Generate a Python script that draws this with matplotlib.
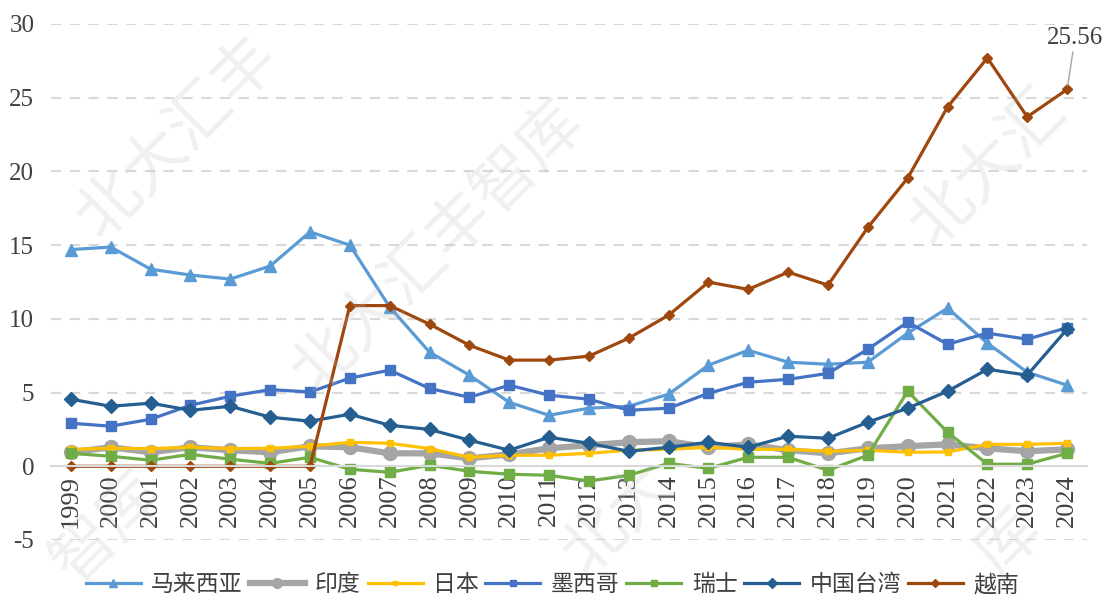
import matplotlib.pyplot as plt

plt.rcParams['font.family'] = ['Liberation Serif', 'Noto Sans CJK SC']
plt.rcParams['axes.unicode_minus'] = False

years = [str(y) for y in range(1999, 2025)]

malaysia = [14.7, 14.87, 13.37, 12.97, 12.7, 13.58, 15.9, 15.0, 10.8, 7.74, 6.18, 4.34, 3.46, 3.94,
            4.07, 4.89, 6.86, 7.87, 7.06, 6.92, 7.06, 9.03, 10.73, 8.35, 6.38, 5.5]
india = [0.95, 1.29, 0.95, 1.29, 1.09, 0.95, 1.36, 1.29, 0.88, 0.88, 0.54, 0.81, 1.22, 1.43,
         1.63, 1.70, 1.29, 1.49, 1.09, 0.88, 1.22, 1.36, 1.49, 1.22, 1.02, 1.15]
japan = [1.15, 1.22, 1.2, 1.29, 1.2, 1.22, 1.36, 1.63, 1.56, 1.2, 0.61, 0.75, 0.75, 0.88,
         1.09, 1.15, 1.29, 1.15, 1.15, 1.02, 1.09, 0.95, 0.97, 1.49, 1.49, 1.56]
mexico = [2.92, 2.72, 3.19, 4.14, 4.75, 5.2, 5.04, 5.98, 6.52, 5.28, 4.68, 5.5, 4.82, 4.55,
          3.8, 3.94, 4.95, 5.7, 5.9, 6.3, 7.94, 9.78, 8.28, 9.03, 8.62, 9.4]
swiss = [0.88, 0.68, 0.41, 0.81, 0.48, 0.2, 0.61, -0.2, -0.41, 0.07, -0.34, -0.54, -0.61, -1.0,
         -0.61, 0.2, -0.14, 0.61, 0.61, -0.27, 0.75, 5.09, 2.31, 0.14, 0.14, 0.88]
taiwan = [4.55, 4.07, 4.28, 3.8, 4.07, 3.33, 3.06, 3.53, 2.78, 2.5, 1.77, 1.09, 1.97, 1.56,
          1.02, 1.29, 1.63, 1.29, 2.04, 1.9, 2.99, 3.94, 5.09, 6.58, 6.18, 9.3]
vietnam = [0, 0, 0, 0, 0, 0, 0, 10.9, 10.9, 9.64, 8.21, 7.2, 7.2, 7.47,
           8.69, 10.25, 12.49, 12.0, 13.17, 12.29, 16.2, 19.55, 24.37, 27.7, 23.7, 25.56]

fig = plt.figure(figsize=(11.07, 6), dpi=100)
ax = fig.add_axes([51 / 1107, 60 / 600, 1036 / 1107, 516 / 600])

# x axis sits on the zero line, set before the labels (set_position resets ticks)
for s in ['left', 'right', 'top']:
    ax.spines[s].set_visible(False)
ax.spines['bottom'].set_position(('data', 0))
ax.spines['bottom'].set_color('#D9D9D9')
ax.spines['bottom'].set_linewidth(1.5)

x = range(len(years))
ax.plot(x, malaysia, color='#5B9BD5', lw=2.3, marker='^', ms=9, label='马来西亚')
ax.plot(x, india, color='#A5A5A5', lw=4.5, marker='o', ms=10, label='印度')
ax.plot(x, japan, color='#FFC000', lw=2.3, marker='s', ms=4, label='日本')
ax.plot(x, mexico, color='#4472C4', lw=2.3, marker='s', ms=6.5, label='墨西哥')
ax.plot(x, swiss, color='#70AD47', lw=2.3, marker='s', ms=6.5, label='瑞士')
ax.plot(x, taiwan, color='#255E91', lw=2.3, marker='D', ms=7, label='中国台湾')
ax.plot(x, vietnam, color='#9E480E', lw=2.3, marker='D', ms=5.5, label='越南')

ax.annotate(f'{vietnam[-1]:.2f}', xy=(len(years) - 1, vietnam[-1]), xytext=(len(years) - 0.8, 28.3),
            fontsize=18, color='#404040', ha='center', va='bottom',
            arrowprops=dict(arrowstyle='-', color='#A5A5A5', lw=1, shrinkA=0, shrinkB=3))

ax.set_xlim(-0.5, len(years) - 0.5)
ax.set_ylim(-5, 30)
ax.set_yticks(range(-5, 31, 5))
ax.set_xticks(list(x))
ax.set_xticklabels(years, rotation=90, fontsize=19, color='#404040')
ax.tick_params(axis='y', labelsize=18, labelcolor='#404040', length=0, pad=12)
ax.tick_params(axis='x', length=0, pad=6)
for v in [-5, 5, 10, 15, 20, 25, 30]:
    ax.axhline(v, color='#D9D9D9', lw=1.5, ls=(0, (5, 4)), zorder=0)

# watermark
wm = dict(color='#BBBBBB', alpha=0.22, rotation=45, fontsize=46, ha='center', va='center',
          transform=fig.transFigure, zorder=0)
fig.text(180 / 1107, 1 - 140 / 600, '北大汇丰', **wm)
fig.text(440 / 1107, 1 - 250 / 600, '北大汇丰智库', **wm)
fig.text(990 / 1107, 1 - 170 / 600, '北大汇', **wm)
fig.text(110 / 1107, 1 - 530 / 600, '智库', **wm)
fig.text(620 / 1107, 1 - 520 / 600, '北大', **wm)
fig.text(1010 / 1107, 1 - 545 / 600, '库', **wm)

ax.legend(loc='center', bbox_to_anchor=(0.484, -0.088), ncol=7, frameon=False,
          fontsize=16.5, handlelength=2.4, columnspacing=0.3, handletextpad=0.45,
          labelcolor='#404040', borderpad=0.1, markerscale=0.7)

fig.savefig('out.png', dpi=100)
